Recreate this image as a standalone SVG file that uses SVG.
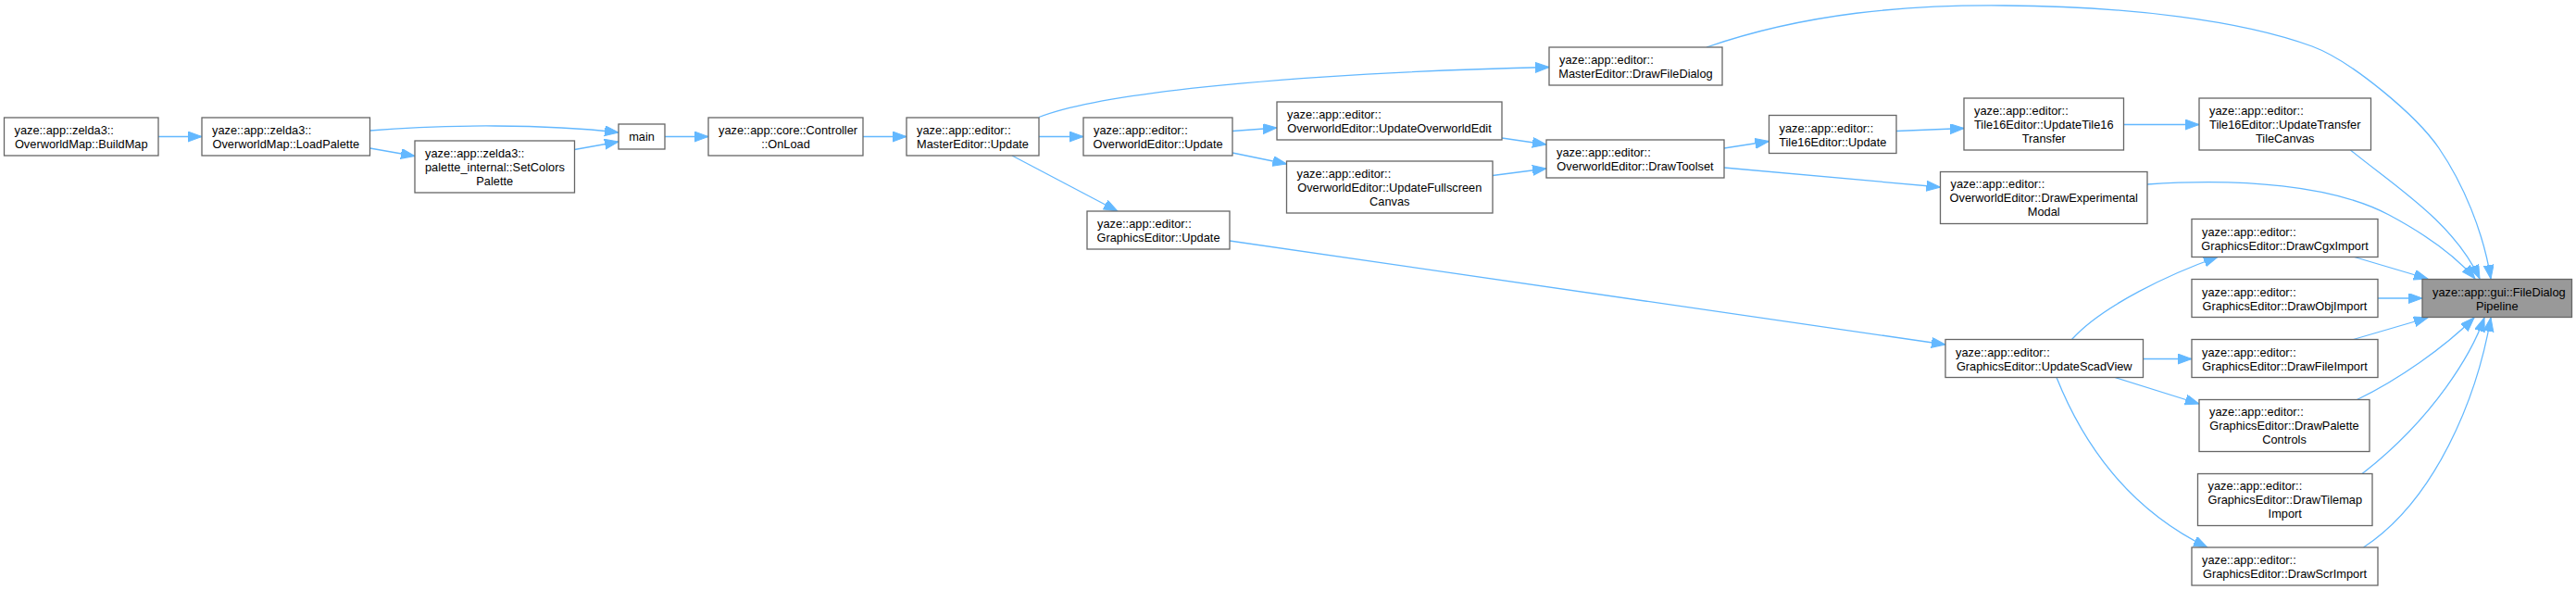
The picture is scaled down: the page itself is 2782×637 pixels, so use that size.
<svg xmlns="http://www.w3.org/2000/svg" width="2782" height="637" viewBox="0 0 2782 637">
<style>
.node rect{fill:#ffffff;stroke:#666666;stroke-width:1.3}
.node.hl rect{fill:#999999;stroke:#666666}
text{font-family:"Liberation Sans",Arial,Helvetica,sans-serif;font-size:12.8px;fill:#000000}
.c{text-anchor:middle}
.edge{fill:none;stroke:#63b8ff;stroke-width:1.3;marker-end:url(#ah)}
</style>
<defs>
<marker id="ah" markerUnits="userSpaceOnUse" markerWidth="16" markerHeight="12" refX="15" refY="5.5" orient="auto">
<path d="M0,0 L15,5.5 L0,11 z" fill="#63b8ff" stroke="#63b8ff" stroke-width="1"/>
</marker>
</defs>
<rect width="2782" height="637" fill="#ffffff"/>
<g id="connectors">
<path class="edge" d="M171,147.5 L218,147.5"/>
<path class="edge" d="M399.5,141 C480,134 590,134 668,143"/>
<path class="edge" d="M399.5,160 L448,168.5"/>
<path class="edge" d="M620.5,161.5 L668,153"/>
<path class="edge" d="M718,147.5 L765,147.5"/>
<path class="edge" d="M932,147.5 L979,147.5"/>
<path class="edge" d="M1122,147.5 L1170,147.5"/>
<path class="edge" d="M1093,168 L1207,228"/>
<path class="edge" d="M1122,126.5 C1200,96 1440,78 1673,72.5"/>
<path class="edge" d="M1331,141.5 L1379,138"/>
<path class="edge" d="M1331,165 L1389.5,177"/>
<path class="edge" d="M1622,149 L1670,156"/>
<path class="edge" d="M1612,189.5 L1670,182"/>
<path class="edge" d="M1862,160 L1910.5,152.5"/>
<path class="edge" d="M1862,181 L2095.5,202"/>
<path class="edge" d="M2048,141.5 L2121,138.5"/>
<path class="edge" d="M2293.5,134.5 L2375,134.5"/>
<path class="edge" d="M1843,51 C1950,14 2060,5 2165,6 C2300,7 2420,22 2497,50 C2540,66 2610,125 2634,160 C2660,198 2682,250 2690,301"/>
<path class="edge" d="M2538.5,162 C2585,200 2650,240 2678,301"/>
<path class="edge" d="M2319,199 C2420,192 2520,200 2580,232 C2625,256 2655,280 2673,301"/>
<path class="edge" d="M2541,277 L2622,301"/>
<path class="edge" d="M2568,322 L2616,322"/>
<path class="edge" d="M2541.5,366.5 L2622,343"/>
<path class="edge" d="M2237.5,366.5 C2270,330 2345,295 2395,277.5"/>
<path class="edge" d="M2314.5,387.5 L2367,387.5"/>
<path class="edge" d="M2284,407.5 L2375,436"/>
<path class="edge" d="M2221,407.5 C2250,480 2300,550 2384,591"/>
<path class="edge" d="M2545.5,431.5 C2590,410 2640,375 2672,343"/>
<path class="edge" d="M2551,511.5 C2630,450 2670,380 2683,343"/>
<path class="edge" d="M2552.5,591 C2630,540 2675,430 2690,343"/>
<path class="edge" d="M1328,260 L2101,372"/>
</g>
<g id="n_buildmap" class="node"><rect x="4.5" y="127" width="166.5" height="41"/><text x="15.5" y="145">yaze::app::zelda3::</text><text class="c" x="87.75" y="160">OverworldMap::BuildMap</text></g>
<g id="n_loadpalette" class="node"><rect x="218" y="127" width="181.5" height="41"/><text x="229" y="145">yaze::app::zelda3::</text><text class="c" x="308.75" y="160">OverworldMap::LoadPalette</text></g>
<g id="n_setcolors" class="node"><rect x="448" y="152" width="172.5" height="56"/><text x="459" y="169.5">yaze::app::zelda3::</text><text x="459" y="184.5">palette_internal::SetColors</text><text class="c" x="534.25" y="199.5">Palette</text></g>
<g id="n_main" class="node"><rect x="668" y="134" width="50" height="27"/><text class="c" x="693" y="152">main</text></g>
<g id="n_onload" class="node"><rect x="765" y="127" width="167" height="41"/><text x="776" y="145">yaze::app::core::Controller</text><text class="c" x="848.5" y="160">::OnLoad</text></g>
<g id="n_master_update" class="node"><rect x="979" y="127" width="143" height="41"/><text x="990" y="145">yaze::app::editor::</text><text class="c" x="1050.5" y="160">MasterEditor::Update</text></g>
<g id="n_ow_update" class="node"><rect x="1170" y="127" width="161" height="41"/><text x="1181" y="145">yaze::app::editor::</text><text class="c" x="1250.5" y="160">OverworldEditor::Update</text></g>
<g id="n_gfx_update" class="node"><rect x="1174" y="228" width="154" height="41"/><text x="1185" y="246">yaze::app::editor::</text><text class="c" x="1251" y="261">GraphicsEditor::Update</text></g>
<g id="n_ow_updateedit" class="node"><rect x="1379" y="110" width="243" height="41"/><text x="1390" y="128">yaze::app::editor::</text><text class="c" x="1500.5" y="143">OverworldEditor::UpdateOverworldEdit</text></g>
<g id="n_ow_fullscreen" class="node"><rect x="1389.5" y="174" width="222.5" height="56"/><text x="1400.5" y="191.5">yaze::app::editor::</text><text class="c" x="1500.75" y="206.5">OverworldEditor::UpdateFullscreen</text><text class="c" x="1500.75" y="221.5">Canvas</text></g>
<g id="n_drawfiledialog" class="node"><rect x="1673" y="51" width="187" height="41"/><text x="1684" y="69">yaze::app::editor::</text><text class="c" x="1766.5" y="84">MasterEditor::DrawFileDialog</text></g>
<g id="n_drawtoolset" class="node"><rect x="1670" y="151" width="192" height="41"/><text x="1681" y="169">yaze::app::editor::</text><text class="c" x="1766" y="184">OverworldEditor::DrawToolset</text></g>
<g id="n_tile16_update" class="node"><rect x="1910.5" y="124.5" width="137.5" height="41"/><text x="1921.5" y="142.5">yaze::app::editor::</text><text class="c" x="1979.25" y="157.5">Tile16Editor::Update</text></g>
<g id="n_tile16_transfer" class="node"><rect x="2121" y="106" width="172.5" height="56"/><text x="2132" y="123.5">yaze::app::editor::</text><text class="c" x="2207.25" y="138.5">Tile16Editor::UpdateTile16</text><text class="c" x="2207.25" y="153.5">Transfer</text></g>
<g id="n_tile16_canvas" class="node"><rect x="2375" y="106" width="185.5" height="56"/><text x="2386" y="123.5">yaze::app::editor::</text><text class="c" x="2467.75" y="138.5">Tile16Editor::UpdateTransfer</text><text class="c" x="2467.75" y="153.5">TileCanvas</text></g>
<g id="n_ow_experimental" class="node"><rect x="2095.5" y="185.5" width="223.5" height="56"/><text x="2106.5" y="203">yaze::app::editor::</text><text class="c" x="2207.25" y="218">OverworldEditor::DrawExperimental</text><text class="c" x="2207.25" y="233">Modal</text></g>
<g id="n_cgximport" class="node"><rect x="2367" y="236.5" width="201" height="41"/><text x="2378" y="254.5">yaze::app::editor::</text><text class="c" x="2467.5" y="269.5">GraphicsEditor::DrawCgxImport</text></g>
<g id="n_objimport" class="node"><rect x="2367" y="301.5" width="201" height="41"/><text x="2378" y="319.5">yaze::app::editor::</text><text class="c" x="2467.5" y="334.5">GraphicsEditor::DrawObjImport</text></g>
<g id="n_pipeline" class="node hl"><rect x="2616" y="301.5" width="161.5" height="41"/><text x="2627" y="319.5">yaze::app::gui::FileDialog</text><text class="c" x="2696.75" y="334.5">Pipeline</text></g>
<g id="n_scadview" class="node"><rect x="2101" y="366.5" width="213.5" height="41"/><text x="2112" y="384.5">yaze::app::editor::</text><text class="c" x="2207.75" y="399.5">GraphicsEditor::UpdateScadView</text></g>
<g id="n_fileimport" class="node"><rect x="2367" y="366.5" width="201" height="41"/><text x="2378" y="384.5">yaze::app::editor::</text><text class="c" x="2467.5" y="399.5">GraphicsEditor::DrawFileImport</text></g>
<g id="n_palettecontrols" class="node"><rect x="2375" y="431.5" width="184" height="56"/><text x="2386" y="449">yaze::app::editor::</text><text class="c" x="2467" y="464">GraphicsEditor::DrawPalette</text><text class="c" x="2467" y="479">Controls</text></g>
<g id="n_tilemapimport" class="node"><rect x="2373.5" y="511.5" width="188.5" height="56"/><text x="2384.5" y="529">yaze::app::editor::</text><text class="c" x="2467.75" y="544">GraphicsEditor::DrawTilemap</text><text class="c" x="2467.75" y="559">Import</text></g>
<g id="n_scrimport" class="node"><rect x="2367" y="591" width="201" height="41"/><text x="2378" y="609">yaze::app::editor::</text><text class="c" x="2467.5" y="624">GraphicsEditor::DrawScrImport</text></g>
</svg>
